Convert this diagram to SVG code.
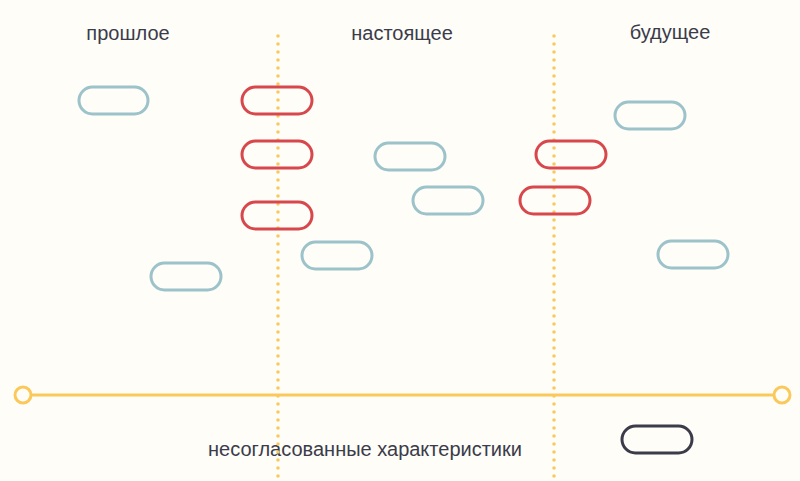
<svg xmlns="http://www.w3.org/2000/svg" width="800" height="481" viewBox="0 0 800 481">
<style>
.p{fill:none;stroke-width:3}
.b{stroke:#9cc2ca}.r{stroke:#d7474b}.k{stroke:#3b3b4a}
text{font-family:"Liberation Sans",Arial,sans-serif;font-size:20px;fill:#3b3b4a;text-anchor:middle}
.d{stroke:#fbc95b;stroke-width:3.5;stroke-linecap:round;stroke-dasharray:0 8}
</style>
<rect width="800" height="481" fill="#fefdf8"/>
<text x="128" y="40">прошлое</text>
<text x="402" y="40">настоящее</text>
<text x="670" y="39">будущее</text>
<text x="365" y="456">несогласованные характеристики</text>
<g id="connectors">
<line class="d" x1="278" y1="36" x2="278" y2="478"/>
<line class="d" x1="554" y1="36" x2="554" y2="478"/>
<line x1="31" y1="395" x2="773" y2="395" stroke="#fbc95b" stroke-width="3"/>
<circle cx="23" cy="395" r="8" fill="#fefdf8" stroke="#fbc95b" stroke-width="3"/>
<circle cx="782" cy="395" r="8" fill="#fefdf8" stroke="#fbc95b" stroke-width="3"/>
</g>
<g id="n1"><rect class="p b" x="79" y="87" width="69" height="27" rx="13.5"/></g>
<g id="n2"><rect class="p b" x="151" y="263" width="70" height="27" rx="13.5"/></g>
<g id="n3"><rect class="p b" x="375" y="143" width="70" height="27" rx="13.5"/></g>
<g id="n4"><rect class="p b" x="413" y="187" width="70" height="27" rx="13.5"/></g>
<g id="n5"><rect class="p b" x="302" y="242" width="70" height="27" rx="13.5"/></g>
<g id="n6"><rect class="p b" x="615" y="102" width="70" height="27" rx="13.5"/></g>
<g id="n7"><rect class="p b" x="658" y="241" width="70" height="27" rx="13.5"/></g>
<g id="n8"><rect class="p r" x="242" y="87" width="70" height="27" rx="13.5"/></g>
<g id="n9"><rect class="p r" x="242" y="141" width="70" height="27" rx="13.5"/></g>
<g id="n10"><rect class="p r" x="242" y="202" width="70" height="27" rx="13.5"/></g>
<g id="n11"><rect class="p r" x="536" y="141" width="70" height="27" rx="13.5"/></g>
<g id="n12"><rect class="p r" x="520" y="187" width="70" height="27" rx="13.5"/></g>
<g id="n13"><rect class="p k" x="622" y="426" width="70" height="27" rx="13.5"/></g>
</svg>
